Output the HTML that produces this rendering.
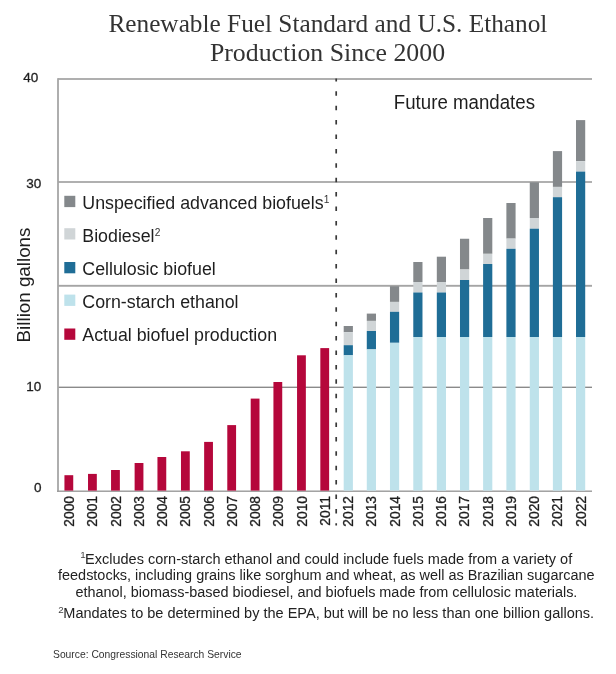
<!DOCTYPE html>
<html><head><meta charset="utf-8"><style>
html,body{margin:0;padding:0;background:#fff;}
svg{display:block;-webkit-font-smoothing:antialiased;font-family:"Liberation Sans", sans-serif;}
</style></head><body>
<svg style="will-change:transform" width="616" height="674" viewBox="0 0 616 674">
<rect width="616" height="674" fill="#fff"/>
<rect x="58" y="78.15" width="534" height="1.7" fill="#a2a2a2"/>
<rect x="58" y="181.10" width="534" height="1.8" fill="#a8a8a8"/>
<rect x="58" y="284.85" width="534" height="1.9" fill="#a5a5a5"/>
<rect x="58" y="386.62" width="534" height="1.35" fill="#878787"/>
<rect x="57.1" y="78.2" width="1.8" height="413.6" fill="#a6a6a6"/>
<rect x="57" y="490.5" width="535" height="1.4" fill="#999999"/>
<rect x="64.44" y="475.20" width="8.8" height="15.40" fill="#b5073b"/>
<rect x="88.02" y="473.90" width="8.8" height="16.70" fill="#b5073b"/>
<rect x="111.05" y="470.00" width="8.8" height="20.60" fill="#b5073b"/>
<rect x="134.62" y="463.00" width="8.8" height="27.60" fill="#b5073b"/>
<rect x="157.45" y="457.00" width="8.8" height="33.60" fill="#b5073b"/>
<rect x="180.97" y="451.30" width="8.8" height="39.30" fill="#b5073b"/>
<rect x="204.15" y="441.90" width="8.8" height="48.70" fill="#b5073b"/>
<rect x="227.28" y="425.10" width="8.8" height="65.50" fill="#b5073b"/>
<rect x="250.70" y="398.60" width="8.8" height="92.00" fill="#b5073b"/>
<rect x="273.43" y="382.00" width="8.8" height="108.60" fill="#b5073b"/>
<rect x="297.05" y="355.30" width="8.8" height="135.30" fill="#b5073b"/>
<rect x="320.33" y="348.10" width="8.8" height="142.50" fill="#b5073b"/>
<rect x="343.70" y="326.00" width="9.2" height="6.20" fill="#84888b"/>
<rect x="343.70" y="332.20" width="9.2" height="13.00" fill="#d0d5d7"/>
<rect x="343.70" y="345.20" width="9.2" height="10.10" fill="#1f6d96"/>
<rect x="343.70" y="355.30" width="9.2" height="135.30" fill="#bee2eb"/>
<rect x="366.78" y="313.60" width="9.2" height="7.30" fill="#84888b"/>
<rect x="366.78" y="320.90" width="9.2" height="10.10" fill="#d0d5d7"/>
<rect x="366.78" y="331.00" width="9.2" height="18.40" fill="#1f6d96"/>
<rect x="366.78" y="349.40" width="9.2" height="141.20" fill="#bee2eb"/>
<rect x="389.96" y="286.20" width="9.2" height="15.70" fill="#84888b"/>
<rect x="389.96" y="301.90" width="9.2" height="9.90" fill="#d0d5d7"/>
<rect x="389.96" y="311.80" width="9.2" height="31.00" fill="#1f6d96"/>
<rect x="389.96" y="342.80" width="9.2" height="147.80" fill="#bee2eb"/>
<rect x="413.28" y="262.00" width="9.2" height="20.00" fill="#84888b"/>
<rect x="413.28" y="282.00" width="9.2" height="10.50" fill="#d0d5d7"/>
<rect x="413.28" y="292.50" width="9.2" height="44.50" fill="#1f6d96"/>
<rect x="413.28" y="337.00" width="9.2" height="153.60" fill="#bee2eb"/>
<rect x="436.81" y="256.70" width="9.2" height="25.30" fill="#84888b"/>
<rect x="436.81" y="282.00" width="9.2" height="10.50" fill="#d0d5d7"/>
<rect x="436.81" y="292.50" width="9.2" height="44.50" fill="#1f6d96"/>
<rect x="436.81" y="337.00" width="9.2" height="153.60" fill="#bee2eb"/>
<rect x="459.98" y="238.75" width="9.2" height="30.75" fill="#84888b"/>
<rect x="459.98" y="269.50" width="9.2" height="10.50" fill="#d0d5d7"/>
<rect x="459.98" y="280.00" width="9.2" height="57.00" fill="#1f6d96"/>
<rect x="459.98" y="337.00" width="9.2" height="153.60" fill="#bee2eb"/>
<rect x="483.11" y="218.00" width="9.2" height="35.80" fill="#84888b"/>
<rect x="483.11" y="253.80" width="9.2" height="10.20" fill="#d0d5d7"/>
<rect x="483.11" y="264.00" width="9.2" height="73.00" fill="#1f6d96"/>
<rect x="483.11" y="337.00" width="9.2" height="153.60" fill="#bee2eb"/>
<rect x="506.38" y="203.00" width="9.2" height="35.60" fill="#84888b"/>
<rect x="506.38" y="238.60" width="9.2" height="10.20" fill="#d0d5d7"/>
<rect x="506.38" y="248.80" width="9.2" height="88.20" fill="#1f6d96"/>
<rect x="506.38" y="337.00" width="9.2" height="153.60" fill="#bee2eb"/>
<rect x="529.76" y="182.30" width="9.2" height="35.70" fill="#84888b"/>
<rect x="529.76" y="218.00" width="9.2" height="10.70" fill="#d0d5d7"/>
<rect x="529.76" y="228.70" width="9.2" height="108.30" fill="#1f6d96"/>
<rect x="529.76" y="337.00" width="9.2" height="153.60" fill="#bee2eb"/>
<rect x="552.89" y="151.10" width="9.2" height="35.80" fill="#84888b"/>
<rect x="552.89" y="186.90" width="9.2" height="10.30" fill="#d0d5d7"/>
<rect x="552.89" y="197.20" width="9.2" height="139.80" fill="#1f6d96"/>
<rect x="552.89" y="337.00" width="9.2" height="153.60" fill="#bee2eb"/>
<rect x="576.01" y="120.10" width="9.2" height="41.10" fill="#84888b"/>
<rect x="576.01" y="161.20" width="9.2" height="10.40" fill="#d0d5d7"/>
<rect x="576.01" y="171.60" width="9.2" height="165.40" fill="#1f6d96"/>
<rect x="576.01" y="337.00" width="9.2" height="153.60" fill="#bee2eb"/>
<line x1="336.2" y1="78.6" x2="336.2" y2="525.6" stroke="#383838" stroke-width="1.7" stroke-dasharray="4.5 9.9" stroke-dashoffset="-12.7"/>
<text transform="translate(38.3,82.3)" text-anchor="end" font-size="13.5" fill="#1e1e1e" stroke="#1e1e1e" stroke-width="0.3">40</text>
<text transform="translate(41.3,187.9)" text-anchor="end" font-size="13.5" fill="#1e1e1e" stroke="#1e1e1e" stroke-width="0.3">30</text>
<text transform="translate(41.3,390.9)" text-anchor="end" font-size="13.5" fill="#1e1e1e" stroke="#1e1e1e" stroke-width="0.3">10</text>
<text transform="translate(41.4,492.0)" text-anchor="end" font-size="13.5" fill="#1e1e1e" stroke="#1e1e1e" stroke-width="0.3">0</text>
<text transform="translate(74.19,496) rotate(-90)" text-anchor="end" font-size="13.8" fill="#1e1e1e" stroke="#1e1e1e" stroke-width="0.3">2000</text>
<text transform="translate(97.44,496) rotate(-90)" text-anchor="end" font-size="13.8" fill="#1e1e1e" stroke="#1e1e1e" stroke-width="0.3">2001</text>
<text transform="translate(120.69,496) rotate(-90)" text-anchor="end" font-size="13.8" fill="#1e1e1e" stroke="#1e1e1e" stroke-width="0.3">2002</text>
<text transform="translate(143.94,496) rotate(-90)" text-anchor="end" font-size="13.8" fill="#1e1e1e" stroke="#1e1e1e" stroke-width="0.3">2003</text>
<text transform="translate(167.20,496) rotate(-90)" text-anchor="end" font-size="13.8" fill="#1e1e1e" stroke="#1e1e1e" stroke-width="0.3">2004</text>
<text transform="translate(190.45,496) rotate(-90)" text-anchor="end" font-size="13.8" fill="#1e1e1e" stroke="#1e1e1e" stroke-width="0.3">2005</text>
<text transform="translate(213.70,496) rotate(-90)" text-anchor="end" font-size="13.8" fill="#1e1e1e" stroke="#1e1e1e" stroke-width="0.3">2006</text>
<text transform="translate(236.95,496) rotate(-90)" text-anchor="end" font-size="13.8" fill="#1e1e1e" stroke="#1e1e1e" stroke-width="0.3">2007</text>
<text transform="translate(260.20,496) rotate(-90)" text-anchor="end" font-size="13.8" fill="#1e1e1e" stroke="#1e1e1e" stroke-width="0.3">2008</text>
<text transform="translate(283.45,496) rotate(-90)" text-anchor="end" font-size="13.8" fill="#1e1e1e" stroke="#1e1e1e" stroke-width="0.3">2009</text>
<text transform="translate(306.71,496) rotate(-90)" text-anchor="end" font-size="13.8" fill="#1e1e1e" stroke="#1e1e1e" stroke-width="0.3">2010</text>
<text transform="translate(329.96,496) rotate(-90)" text-anchor="end" font-size="13.8" fill="#1e1e1e" stroke="#1e1e1e" stroke-width="0.3">2011</text>
<text transform="translate(353.21,496) rotate(-90)" text-anchor="end" font-size="13.8" fill="#1e1e1e" stroke="#1e1e1e" stroke-width="0.3">2012</text>
<text transform="translate(376.46,496) rotate(-90)" text-anchor="end" font-size="13.8" fill="#1e1e1e" stroke="#1e1e1e" stroke-width="0.3">2013</text>
<text transform="translate(399.71,496) rotate(-90)" text-anchor="end" font-size="13.8" fill="#1e1e1e" stroke="#1e1e1e" stroke-width="0.3">2014</text>
<text transform="translate(422.96,496) rotate(-90)" text-anchor="end" font-size="13.8" fill="#1e1e1e" stroke="#1e1e1e" stroke-width="0.3">2015</text>
<text transform="translate(446.21,496) rotate(-90)" text-anchor="end" font-size="13.8" fill="#1e1e1e" stroke="#1e1e1e" stroke-width="0.3">2016</text>
<text transform="translate(469.47,496) rotate(-90)" text-anchor="end" font-size="13.8" fill="#1e1e1e" stroke="#1e1e1e" stroke-width="0.3">2017</text>
<text transform="translate(492.72,496) rotate(-90)" text-anchor="end" font-size="13.8" fill="#1e1e1e" stroke="#1e1e1e" stroke-width="0.3">2018</text>
<text transform="translate(515.97,496) rotate(-90)" text-anchor="end" font-size="13.8" fill="#1e1e1e" stroke="#1e1e1e" stroke-width="0.3">2019</text>
<text transform="translate(539.22,496) rotate(-90)" text-anchor="end" font-size="13.8" fill="#1e1e1e" stroke="#1e1e1e" stroke-width="0.3">2020</text>
<text transform="translate(562.47,496) rotate(-90)" text-anchor="end" font-size="13.8" fill="#1e1e1e" stroke="#1e1e1e" stroke-width="0.3">2021</text>
<text transform="translate(585.72,496) rotate(-90)" text-anchor="end" font-size="13.8" fill="#1e1e1e" stroke="#1e1e1e" stroke-width="0.3">2022</text>
<rect x="64.3" y="195.80" width="11" height="11.3" fill="#84888b"/>
<text transform="translate(82.3,208.6) scale(1,1.06)" text-anchor="start" font-size="17.8" fill="#1e1e1e">Unspecified advanced biofuels<tspan font-size="10.2" dy="-5.6" dx="0.3" fill="#333">1</tspan></text>
<rect x="64.3" y="228.20" width="11" height="11.3" fill="#d0d5d7"/>
<text transform="translate(82.3,241.8) scale(1,1.06)" text-anchor="start" font-size="17.8" fill="#1e1e1e">Biodiesel<tspan font-size="10.2" dy="-5.6" dx="0.3" fill="#333">2</tspan></text>
<rect x="64.3" y="262.00" width="11" height="11.3" fill="#1f6d96"/>
<text transform="translate(82.3,274.9) scale(1,1.06)" text-anchor="start" font-size="17.8" fill="#1e1e1e">Cellulosic biofuel</text>
<rect x="64.3" y="294.60" width="11" height="11.3" fill="#bee2eb"/>
<text transform="translate(82.3,308.2) scale(1,1.06)" text-anchor="start" font-size="17.8" fill="#1e1e1e">Corn-starch ethanol</text>
<rect x="64.3" y="328.50" width="11" height="11.3" fill="#b5073b"/>
<text transform="translate(82.3,341.1) scale(1,1.06)" text-anchor="start" font-size="17.8" fill="#1e1e1e">Actual biofuel production</text>
<text transform="translate(393.8,108.8) scale(1,1.1)" text-anchor="start" font-size="18.4" textLength="141.2" lengthAdjust="spacingAndGlyphs" fill="#1e1e1e">Future mandates</text>
<text transform="translate(30.0,342.4) rotate(-90) scale(1,1.04)" font-size="18.4" textLength="114.8" lengthAdjust="spacingAndGlyphs" fill="#1e1e1e">Billion gallons</text>
<text transform="translate(108.4,31.7)" text-anchor="start" font-size="25.3" font-family='"Liberation Serif", serif' textLength="439" lengthAdjust="spacingAndGlyphs" fill="#333333">Renewable Fuel Standard and U.S. Ethanol</text>
<text transform="translate(209.9,61.2)" text-anchor="start" font-size="25.3" font-family='"Liberation Serif", serif' textLength="235.2" lengthAdjust="spacingAndGlyphs" fill="#333333">Production Since 2000</text>
<text x="85.0" y="563.5" font-size="14.45" textLength="487.2" lengthAdjust="spacingAndGlyphs" fill="#222">Excludes corn-starch ethanol and could include fuels made from a variety of</text>
<text x="58.0" y="579.8" font-size="14.45" textLength="536.6" lengthAdjust="spacingAndGlyphs" fill="#222">feedstocks, including grains like sorghum and wheat, as well as Brazilian sugarcane</text>
<text x="75.4" y="596.8" font-size="14.45" textLength="502.0" lengthAdjust="spacingAndGlyphs" fill="#222">ethanol, biomass-based biodiesel, and biofuels made from cellulosic materials.</text>
<text x="63.3" y="618.0" font-size="14.45" textLength="530.8" lengthAdjust="spacingAndGlyphs" fill="#222">Mandates to be determined by the EPA, but will be no less than one billion gallons.</text>
<text x="80.3" y="557.8" font-size="9.8" fill="#444">1</text>
<text x="58.2" y="612.6" font-size="9.8" fill="#444">2</text>
<text transform="translate(53,658) scale(1,1.15)" text-anchor="start" font-size="10.2" textLength="188.6" lengthAdjust="spacingAndGlyphs" fill="#333">Source: Congressional Research Service</text>
</svg>
</body></html>
